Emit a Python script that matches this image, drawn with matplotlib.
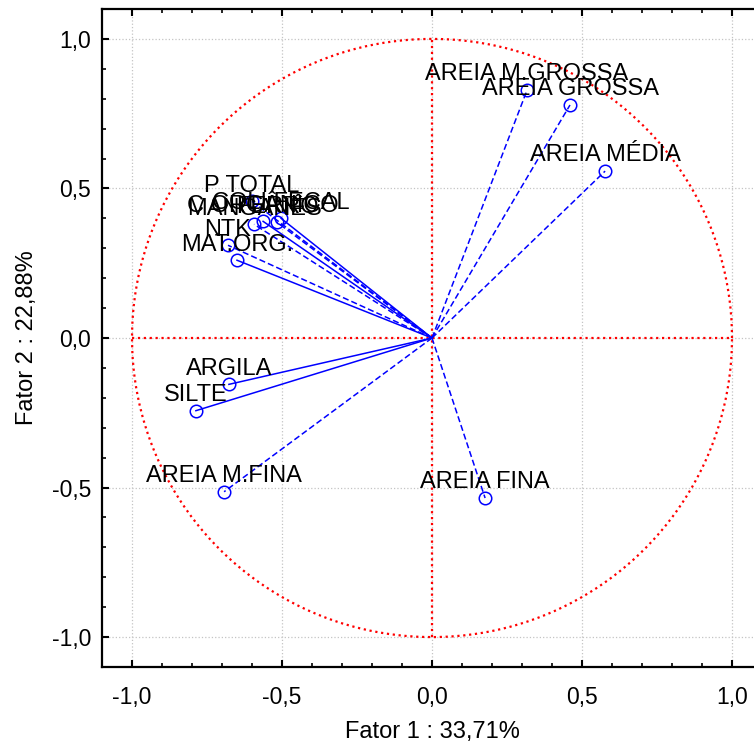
import numpy as np
import matplotlib
matplotlib.use('Agg')
import matplotlib.pyplot as plt
from matplotlib.ticker import MultipleLocator, FuncFormatter

plt.rcParams['font.family'] = ['Liberation Sans', 'DejaVu Sans']

# variable loadings on factors 1 and 2
labels = ['AREIA M.GROSSA', 'AREIA GROSSA', 'AREIA MÉDIA', 'AREIA FINA',
          'AREIA M.FINA', 'SILTE', 'ARGILA', 'MAT.ORG.', 'NTK', 'P TOTAL',
          'MANGANÊS', 'C ORGÂNICO', 'FERRO', 'COLI FECAL']
fator1 = [0.317, 0.460, 0.577, 0.177, -0.693, -0.787, -0.677, -0.650,
          -0.680, -0.600, -0.593, -0.563, -0.517, -0.503]
fator2 = [0.829, 0.779, 0.558, -0.535, -0.514, -0.243, -0.155, 0.260,
          0.310, 0.457, 0.380, 0.390, 0.387, 0.400]
estilo = ['--', '--', '--', '--', '--', '-', '-', '-', '--', '--',
          '--', '-', '--', '-']

fig = plt.figure(figsize=(7.54, 7.47), dpi=100)
ax = fig.add_axes([102/754, 80/747, 660/754, 658/747])

# unit circle and axes lines
t = np.linspace(0, 2*np.pi, 400)
ax.plot(np.cos(t), np.sin(t), color='red', ls=':', lw=1.6)
ax.plot([-1, 1], [0, 0], color='red', ls=':', lw=1.6)
ax.plot([0, 0], [-1, 1], color='red', ls=':', lw=1.6)

for lab, x, y, ls in zip(labels, fator1, fator2, estilo):
    linha, = ax.plot([0, x], [0, y], color='blue', ls=ls, lw=1.1)
    if ls == '--':
        linha.set_dashes((4, 2))
    ax.plot(x, y, 'o', mfc='none', mec='blue', ms=9, mew=1.1)
    ax.annotate(lab, (x, y), xytext=(0, 7), textcoords='offset points',
                ha='center', va='baseline', fontsize=17, color='black')

ax.set_xlim(-1.1, 1.1)
ax.set_ylim(-1.1, 1.1)
ax.xaxis.set_major_locator(MultipleLocator(0.5))
ax.yaxis.set_major_locator(MultipleLocator(0.5))
ax.xaxis.set_minor_locator(MultipleLocator(0.1))
ax.yaxis.set_minor_locator(MultipleLocator(0.1))
fmt = FuncFormatter(lambda v, p: ('%.1f' % v).replace('.', ',').replace('-0,0', '0,0'))
ax.xaxis.set_major_formatter(fmt)
ax.yaxis.set_major_formatter(fmt)
ax.tick_params(which='both', direction='in', top=True, right=True,
               labelsize=16.5)
ax.tick_params(which='major', length=5, width=1.5)
ax.tick_params(which='minor', length=3, width=1.2)
ax.tick_params(axis='x', pad=14)
ax.tick_params(axis='y', pad=8)
ax.grid(True, which='major', color='#c4c4c4', ls=':', lw=0.9)
ax.set_axisbelow(True)
for s in ax.spines.values():
    s.set_linewidth(1.6)

ax.set_xlabel('Fator 1 : 33,71%', fontsize=17)
ax.set_ylabel('Fator 2 : 22,88%', fontsize=17)
ax.xaxis.set_label_coords(0.5, -54/658)
ax.yaxis.set_label_coords(-64/660, 0.5)

fig.savefig('out.png', dpi=100)
